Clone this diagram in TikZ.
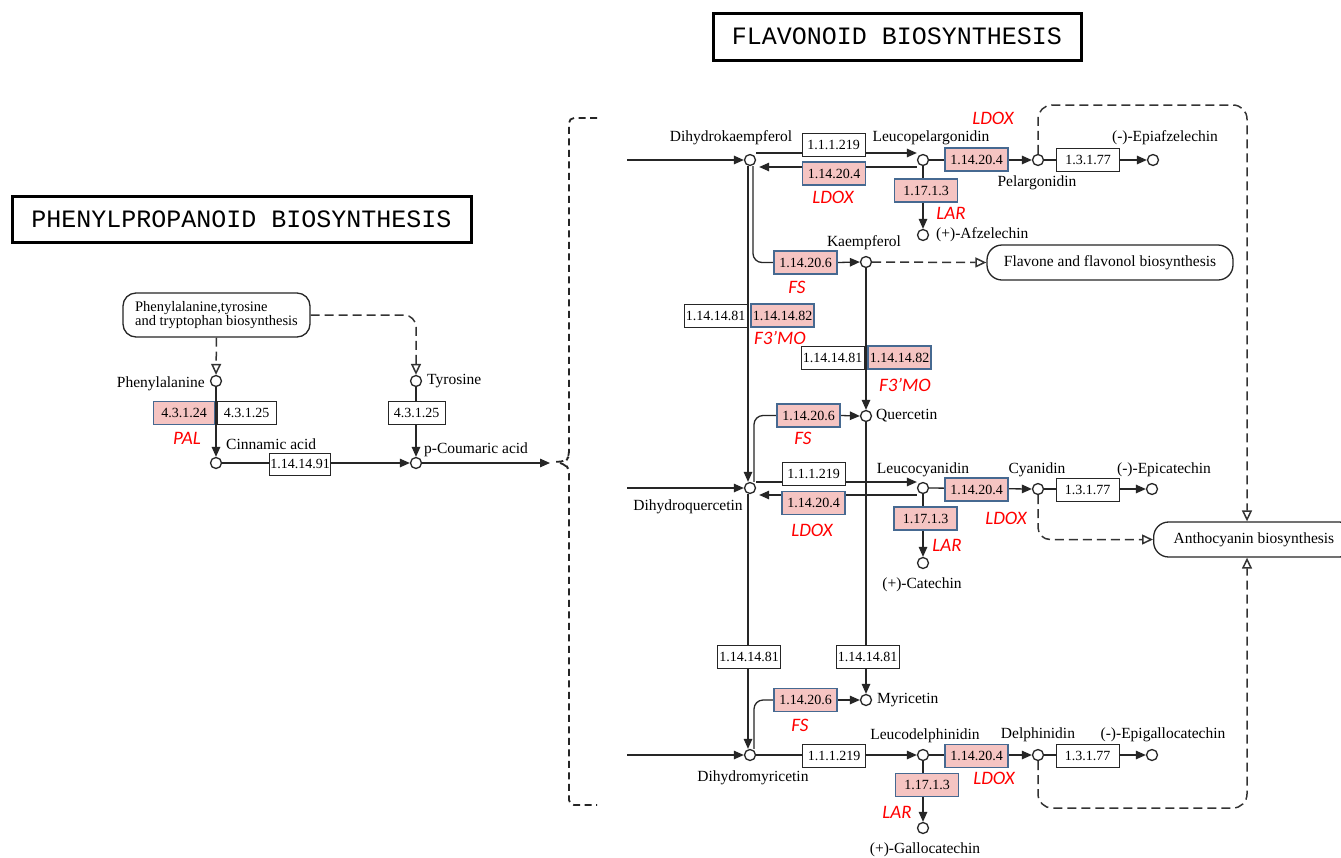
\documentclass[tikz,border=0pt]{standalone}
\usepackage{fontspec}
\setmainfont{Liberation Serif}
\newfontfamily\genefont{Carlito}
\newfontfamily\titlefont{Liberation Mono}
\usetikzlibrary{arrows.meta}
\definecolor{pinkfill}{RGB}{245,196,194}
\definecolor{bluebord}{RGB}{70,105,145}
\definecolor{genered}{RGB}{255,0,0}
\pgfdeclarelayer{bg}
\pgfsetlayers{bg,main}
\begin{document}
\begin{tikzpicture}[x=1pt,y=-1pt,
  ln/.style={line width=1.3pt, black!85},
  arr/.style={ln, -{Triangle[length=10pt,width=8.5pt]}},
  dsh/.style={line width=1.5pt, black!80, dash pattern=on 9pt off 5pt},
  oarr/.style={dsh, -{Triangle[open,length=11pt,width=10pt]}},
  cpd/.style={circle, draw=black!85, line width=1.3pt, fill=white, minimum size=11pt, inner sep=0pt},
  ec/.style={draw=black!85, line width=1pt, fill=white, minimum width=63pt, minimum height=23pt, inner sep=1pt, font=\fontsize{14}{14}\selectfont},
  enz/.style={ec, fill=pinkfill, draw=bluebord, line width=1.5pt},
  lbl/.style={font=\fontsize{15.5}{16}\selectfont, inner sep=0pt},
  gname/.style={text=genered, font=\genefont\itshape\fontsize{19}{20}\selectfont, inner sep=0pt},
  mapbox/.style={draw=black!85, line width=1.3pt, rounded corners=13pt, fill=white, font=\fontsize{15.5}{16}\selectfont},
  titlebox/.style={draw, line width=3pt, fill=white, font=\titlefont\fontsize{25}{26}\selectfont, inner sep=0pt}
]
\useasboundingbox (0,0) rectangle (1341,857);

% ---------------- titles
\node[titlebox, minimum width=368pt, minimum height=47pt] (tflav) at (897,36.5) {FLAVONOID BIOSYNTHESIS};
\node[titlebox, minimum width=459pt, minimum height=46pt] (tphen) at (241.5,219) {PHENYLPROPANOID BIOSYNTHESIS};

% ---------------- phenylpropanoid part
\node[mapbox, align=left, font=\fontsize{14.5}{14}\selectfont, minimum width=187pt, minimum height=44pt] (ptt) at (216.5,315) {Phenylalanine,tyrosine\\and tryptophan biosynthesis};
\node[cpd] (phe) at (216,381) {};
\node[cpd] (tyr) at (416,381) {};
\node[cpd] (cin) at (216,463) {};
\node[cpd] (pcou) at (416,463) {};
\node[enz, minimum width=61pt] (e43124) at (184,413) {4.3.1.24};
\node[ec, minimum width=59pt] (e43125a) at (246.5,413) {4.3.1.25};
\node[ec, minimum width=57pt] (e43125b) at (416.5,413) {4.3.1.25};
\node[ec, minimum width=57pt, minimum height=22pt] (e1414491) at (300,464) {1.14.14.91};
\node[gname] (gpal) at (187,438) {PAL};
\node[lbl, anchor=east] (tphe) at (205,384) {Phenylalanine};
\node[lbl, anchor=west] (ttyr) at (427,381) {Tyrosine};
\node[lbl, anchor=west] (tcin) at (226,444) {Cinnamic acid};
\node[lbl, anchor=west] (tpco) at (424,450) {p-Coumaric acid};
\coordinate (brk) at (550,463);

% ---------------- flavonoid compounds
\node[cpd] (dhk) at (750,160) {};
\node[cpd] (lpg) at (923,160) {};
\node[cpd] (pel) at (1038,160) {};
\node[cpd] (epa) at (1153,160) {};
\node[cpd] (afz) at (923,235) {};
\node[cpd] (kmp) at (866,262) {};
\node[cpd] (qrc) at (866,416) {};
\node[cpd] (dhq) at (750,488) {};
\node[cpd] (lcy) at (923,488) {};
\node[cpd] (cat) at (923,563) {};
\node[cpd] (cya) at (1038,489) {};
\node[cpd] (epc) at (1152,489) {};
\node[cpd] (myr) at (866,700) {};
\node[cpd] (dhm) at (750,755) {};
\node[cpd] (ldp) at (923,755) {};
\node[cpd] (gal) at (923,828) {};
\node[cpd] (del) at (1038,755) {};
\node[cpd] (egc) at (1152,755) {};

\coordinate (in1) at (627,160);
\coordinate (in2) at (627,488);
\coordinate (in3) at (627,755);
\coordinate (ctr) at (1247,105);
\coordinate (cbr) at (1247,808);

% map boxes
\node[mapbox, rounded corners=15pt, minimum width=246pt, minimum height=35pt] (flav) at (1110,262.5) {Flavone and flavonol biosynthesis};
\node[mapbox, rounded corners=15pt, anchor=west, minimum height=35pt, inner xsep=20pt] (anth) at (1153,539.5) {Anthocyanin biosynthesis};

% enzyme boxes
\node[ec] (dfr1) at (833.5,144.5) {1.1.1.219};
\node[enz] (ldoxa) at (834,173.5) {1.14.20.4};
\node[enz] (ldoxb) at (976.5,159.5) {1.14.20.4};
\node[ec] (anr1) at (1088,160) {1.3.1.77};
\node[enz] (lar1) at (926,190.5) {1.17.1.3};
\node[enz] (fs1) at (805.5,262.5) {1.14.20.6};
\node[ec] (f35a) at (715.5,315.5) {1.14.14.81};
\node[enz] (f3a) at (782.5,315.5) {1.14.14.82};
\node[ec] (f35b) at (832.5,357.5) {1.14.14.81};
\node[enz] (f3b) at (899.5,357.5) {1.14.14.82};
\node[enz] (fs2) at (808.5,415.5) {1.14.20.6};
\node[ec] (dfr2) at (813.5,474) {1.1.1.219};
\node[enz] (ldoxc) at (813.5,503) {1.14.20.4};
\node[enz] (ldoxd) at (976.5,489.5) {1.14.20.4};
\node[ec] (anr2) at (1087.5,490) {1.3.1.77};
\node[enz] (lar2) at (925.5,518.5) {1.17.1.3};
\node[ec] (f35c) at (749,657) {1.14.14.81};
\node[ec] (f35d) at (867.5,657) {1.14.14.81};
\node[enz] (fs3) at (805.5,700) {1.14.20.6};
\node[ec] (dfr3) at (834,756) {1.1.1.219};
\node[enz] (ldoxe) at (976.5,756) {1.14.20.4};
\node[ec] (anr3) at (1087.5,755.5) {1.3.1.77};
\node[enz] (lar3) at (927,785) {1.17.1.3};

% compound labels
\node[lbl] (tdhk) at (731,138) {Dihydrokaempferol};
\node[lbl] (tlpg) at (931,138) {Leucopelargonidin};
\node[lbl] (tepa) at (1165,138) {(-)-Epiafzelechin};
\node[lbl] (tpel) at (1037,183) {Pelargonidin};
\node[lbl, anchor=west] (tafz) at (936,235) {(+)-Afzelechin};
\node[lbl] (tkmp) at (864,243) {Kaempferol};
\node[lbl, anchor=west] (tqrc) at (876,416) {Quercetin};
\node[lbl] (tlcy) at (923,470) {Leucocyanidin};
\node[lbl] (tdhq) at (688,507) {Dihydroquercetin};
\node[lbl] (tcat) at (922,585) {(+)-Catechin};
\node[lbl] (tcya) at (1037,470) {Cyanidin};
\node[lbl] (tepc) at (1164,470) {(-)-Epicatechin};
\node[lbl, anchor=west] (tmyr) at (877,700) {Myricetin};
\node[lbl] (tdhm) at (753,778) {Dihydromyricetin};
\node[lbl] (tldp) at (925,736) {Leucodelphinidin};
\node[lbl] (tdel) at (1038,735) {Delphinidin};
\node[lbl] (tegc) at (1163,735) {(-)-Epigallocatechin};
\node[lbl] (tgal) at (925,850) {(+)-Gallocatechin};

% gene labels
\node[gname] (g1) at (993,118) {LDOX};
\node[gname] (g2) at (833,197) {LDOX};
\node[gname] (g3) at (951,213) {LAR};
\node[gname] (g4) at (797,287) {FS};
\node[gname] (g5) at (780,338) {F3’MO};
\node[gname] (g6) at (905,385) {F3’MO};
\node[gname] (g7) at (803,438) {FS};
\node[gname] (g8) at (812,530) {LDOX};
\node[gname] (g9) at (947,545) {LAR};
\node[gname] (g10) at (1006,518) {LDOX};
\node[gname] (g11) at (800,725) {FS};
\node[gname] (g12) at (994,778) {LDOX};
\node[gname] (g13) at (897,812) {LAR};

\begin{pgfonlayer}{bg}
  \fill[white] (0,0) rectangle (1341,857);
  % bracket
  \draw[line width=1.8pt, black!85, dash pattern=on 7pt off 4.5pt, rounded corners=5pt]
     (597,118) -- (569,118) -- (569,456) -- (566,461) -- (555,462);
  \draw[line width=1.8pt, black!85, dash pattern=on 7pt off 4.5pt, rounded corners=5pt]
     (560,463) -- (566,465) -- (569,470) -- (569,805) -- (597,805);
  % phenylpropanoid
  \draw[oarr] (ptt.south) -- (phe.north);
  \draw[oarr, rounded corners=12pt] (ptt.east) -| (tyr.north);
  \draw[arr] (phe.south) -- (cin.north);
  \draw[arr] (tyr.south) -- (pcou.north);
  \draw[arr] (cin.east) -- (pcou.west);
  \draw[arr] (pcou.east) -- (brk);
  % row 1
  \draw[arr] (in1) -- (dhk.west);
  \draw[arr] ([yshift=7pt]dhk.east) -- ([yshift=7pt]lpg.west);
  \draw[arr, shorten >=3pt] ([yshift=-7pt]lpg.west) -- ([yshift=-7pt]dhk.east);
  \draw[arr] (lpg.east) -- (pel.west);
  \draw[arr] (pel.east) -- (epa.west);
  \draw[arr] (lpg.south) -- (afz.north);
  \draw[ln, rounded corners=9pt] ([xshift=3pt]dhk.south) |- (fs1.west);
  \draw[arr] (fs1.east) -- (kmp.west);
  \draw[oarr] (kmp.east) -- (flav.west);
  \draw[arr] ([xshift=-2pt]dhk.south) -- ([xshift=-2pt]dhq.north);
  \draw[arr] (kmp.south) -- (qrc.north);
  \draw[ln, rounded corners=9pt] ([xshift=4pt]dhq.north) |- (fs2.west);
  \draw[arr] (fs2.east) -- (qrc.west);
  % row 2
  \draw[arr] (in2) -- (dhq.west);
  \draw[arr] ([yshift=6pt]dhq.east) -- ([yshift=6pt]lcy.west);
  \draw[arr, shorten >=3pt] ([yshift=-7pt]lcy.west) -- ([yshift=-7pt]dhq.east);
  \draw[arr] (lcy.east) -- (cya.west);
  \draw[arr] (cya.east) -- (epc.west);
  \draw[arr] (lcy.south) -- (cat.north);
  \draw[arr] ([xshift=-2pt]dhq.south) -- ([xshift=-2pt]dhm.north);
  \draw[arr] (qrc.south) -- (myr.north);
  \draw[ln, rounded corners=9pt] ([xshift=4pt]dhm.north) |- (fs3.west);
  \draw[arr] (fs3.east) -- (myr.west);
  % row 3
  \draw[arr] (in3) -- (dhm.west);
  \draw[arr] (dhm.east) -- (ldp.west);
  \draw[arr] (ldp.east) -- (del.west);
  \draw[arr] (del.east) -- (egc.west);
  \draw[arr] (ldp.south) -- (gal.north);
  % anthocyanin links
  \draw[oarr, rounded corners=14pt] (pel.north) |- (ctr) -- (ctr |- anth.north);
  \draw[oarr, rounded corners=14pt] (del.south) |- (cbr) -- (cbr |- anth.south);
  \draw[oarr, rounded corners=12pt] (cya.south) |- (anth.west);
\end{pgfonlayer}
\end{tikzpicture}
\end{document}
